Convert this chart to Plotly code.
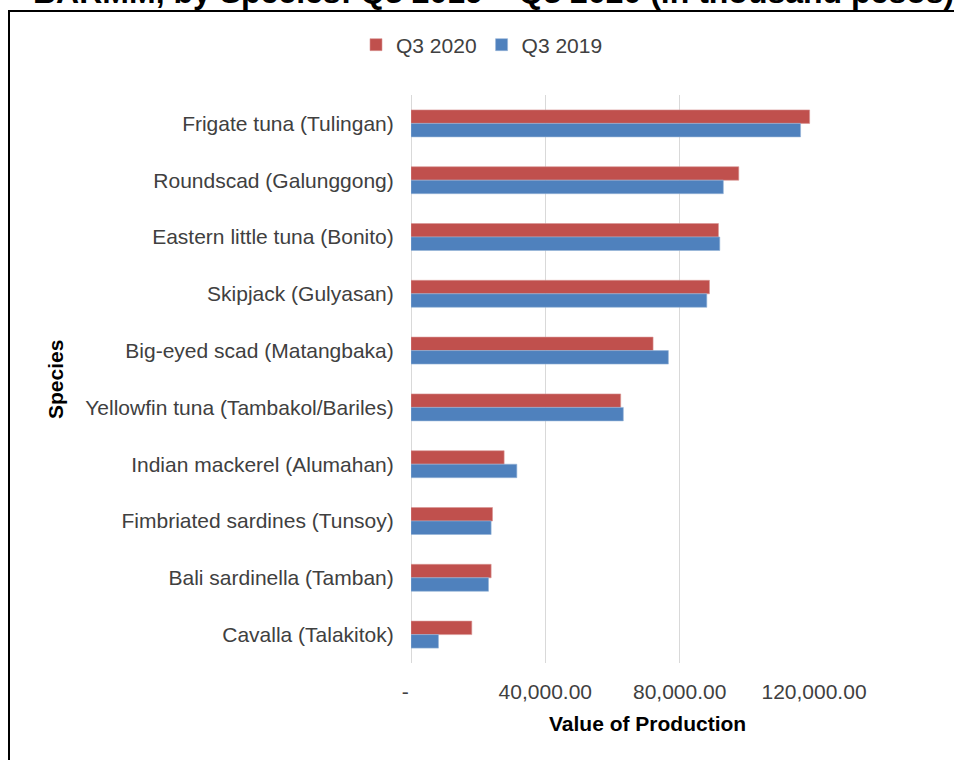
import plotly.graph_objects as go

species = [
    "Frigate tuna (Tulingan)",
    "Roundscad (Galunggong)",
    "Eastern little tuna (Bonito)",
    "Skipjack (Gulyasan)",
    "Big-eyed scad (Matangbaka)",
    "Yellowfin tuna (Tambakol/Bariles)",
    "Indian mackerel (Alumahan)",
    "Fimbriated sardines (Tunsoy)",
    "Bali sardinella (Tamban)",
    "Cavalla (Talakitok)",
]
q3_2020 = [118700, 97600, 91550, 88870, 72080, 62440, 27730, 24270, 23860, 18100]
q3_2019 = [116000, 93000, 91950, 88080, 76640, 63220, 31520, 23860, 23080, 8170]

tick_vals = [0, 40000, 80000, 120000]
tick_text = ["-\u00a0\u00a0", "40,000.00", "80,000.00", "120,000.00"]

title_text = "BARMM, by Species: Q3 2019 \u2013 Q3 2020 (in thousand pesos)"

W, H = 954, 760
L, R, T, B = 411, 140, 95, 97
pw, ph = W - L - R, H - T - B


def px_x(x):
    return (x - L) / pw


def px_y(y):
    return (H - B - y) / ph


FONT = "Liberation Sans, Arial, sans-serif"

fig = go.Figure()
fig.add_trace(go.Bar(
    y=species, x=q3_2020, name="Q3 2020", orientation="h",
    marker=dict(color="#C0504D", line=dict(color="#D99694", width=0.6)),
))
fig.add_trace(go.Bar(
    y=species, x=q3_2019, name="Q3 2019", orientation="h",
    marker=dict(color="#4F81BD", line=dict(color="#95B3D7", width=0.6)),
))

fig.update_layout(
    width=W, height=H,
    margin=dict(l=L, r=R, t=T, b=B, autoexpand=False),
    paper_bgcolor="white", plot_bgcolor="white",
    barmode="group", bargap=0.525, bargroupgap=0,
    font=dict(family=FONT, size=21, color="#404040"),
    showlegend=True,
    legend=dict(
        orientation="h", x=px_x(482), xanchor="center",
        y=px_y(45), yanchor="middle",
        font=dict(family=FONT, size=21, color="#404040"),
        itemwidth=30, tracegroupgap=0,
        bgcolor="rgba(0,0,0,0)",
    ),
    xaxis=dict(
        range=[0, 120000], tickvals=tick_vals, ticktext=tick_text,
        showgrid=True, gridcolor="#D9D9D9", gridwidth=1,
        zeroline=True, zerolinecolor="#D9D9D9", zerolinewidth=1,
        showline=False, ticks="outside", ticklen=10,
        tickcolor="rgba(0,0,0,0)",
        tickfont=dict(family=FONT, size=21, color="#404040"),
        fixedrange=True,
    ),
    yaxis=dict(
        categoryorder="array", categoryarray=species,
        autorange="reversed",
        showgrid=False, zeroline=False, showline=False,
        ticks="outside", ticklen=12, tickcolor="rgba(0,0,0,0)",
        tickfont=dict(family=FONT, size=21, color="#404040"),
        fixedrange=True,
    ),
    annotations=[
        dict(text="<b>Value of Production</b>", xref="paper", yref="paper",
             x=px_x(647), y=px_y(723), xanchor="center", yanchor="middle",
             showarrow=False, font=dict(family=FONT, size=21, color="black")),
        dict(text="<b>Species</b>", xref="paper", yref="paper",
             x=px_x(55), y=px_y(380), xanchor="center", yanchor="middle",
             textangle=-90, showarrow=False,
             font=dict(family=FONT, size=21, color="black")),
        dict(text="<b>" + title_text + "</b>", xref="paper", yref="paper",
             x=px_x(493), y=px_y(12), xanchor="center", yanchor="bottom",
             showarrow=False, font=dict(family=FONT, size=32, color="black")),
    ],
    shapes=[
        dict(type="rect", xref="paper", yref="paper",
             x0=px_x(9), x1=px_x(1010), y0=px_y(11), y1=px_y(820),
             line=dict(color="black", width=2), fillcolor="rgba(0,0,0,0)",
             layer="above"),
    ],
)

fig.write_html(
    "out.html",
    config={"displayModeBar": False},
    post_script="document.body.style.margin='0';document.body.style.padding='0';"
                "document.documentElement.style.overflow='hidden';",
)
